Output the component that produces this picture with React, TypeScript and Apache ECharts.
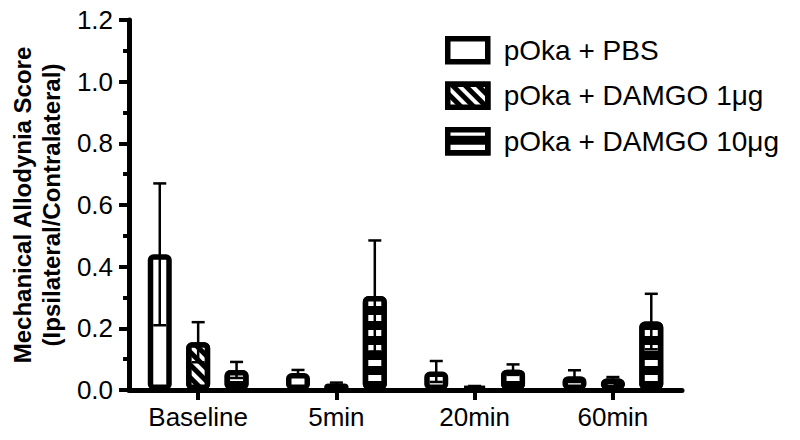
import React, { useEffect, useRef } from 'react';
import * as echarts from 'echarts';

const categories = ['Baseline', '5min', '20min', '60min'];
const seriesNames = ['pOka + PBS', 'pOka + DAMGO 1μg', 'pOka + DAMGO 10μg'];
const pbsMean = [0.44, 0.055, 0.06, 0.045];
const pbsSem = [0.23, 0.01, 0.034, 0.019];
const damgo1Mean = [0.155, 0.02, 0.01, 0.037];
const damgo1Sem = [0.065, 0.004, 0.003, 0.005];
const damgo10Mean = [0.065, 0.305, 0.066, 0.222];
const damgo10Sem = [0.026, 0.18, 0.017, 0.09];
const yTicks = [0, 0.2, 0.4, 0.6, 0.8, 1.0, 1.2];

const FONT = '"Liberation Sans", Arial, Helvetica, sans-serif';
const BAR_W = 24;
const BAR_GAP = 0.6;
const STEP = BAR_W * (1 + BAR_GAP);
const AXIS_LINE = { color: '#000000', width: 5, opacity: 1, type: 'solid' as const };
const TICK_LINE = { color: '#000000', width: 4, opacity: 1, type: 'solid' as const };

export default function App() {
  const ref = useRef<HTMLDivElement>(null);
  useEffect(() => {
    const chart = echarts.init(ref.current as HTMLDivElement, null, { renderer: 'svg' });
    const means = [pbsMean, damgo1Mean, damgo10Mean];
    const sems = [pbsSem, damgo1Sem, damgo10Sem];
    const fills = ['#ffffff', '#000000', '#000000'];
    const decals: any[] = [
      undefined,
      { symbol: 'rect', symbolSize: 1, color: '#ffffff', dashArrayX: [1, 0], dashArrayY: [4, 5], rotation: Math.PI / 4 },
      { symbol: 'rect', symbolSize: 1, color: '#ffffff', dashArrayX: [1, 0], dashArrayY: [6, 9], rotation: 0 },
    ];
    const barSeries = seriesNames.map((name, i) => ({
      type: 'bar',
      name,
      data: means[i],
      barWidth: BAR_W,
      barGap: Math.round(BAR_GAP * 100) + '%',
      itemStyle: {
        color: fills[i],
        borderColor: '#000',
        borderWidth: 5.5,
        borderRadius: 3,
        ...(decals[i] ? { decal: decals[i] } : {}),
      },
      emphasis: { disabled: true },
      silent: true,
      z: 2,
    }));
    const errSeries = seriesNames.map((name, i) => ({
      type: 'custom',
      name: name + ' SEM',
      data: categories.map((c, j) => [j, means[i][j], sems[i][j]]),
      silent: true,
      z: 3,
      renderItem: (params: any, api: any) => {
        const j = api.value(0);
        const m = api.value(1);
        const s = api.value(2);
        const top = api.coord([j, m + s]);
        const bot = api.coord([j, Math.max(0, m - s)]);
        const x = top[0] + (i - 1) * STEP;
        const cap = 6.5;
        const st = { stroke: '#000', lineWidth: 2.5 };
        return {
          type: 'group',
          children: [
            { type: 'line', shape: { x1: x, y1: top[1], x2: x, y2: bot[1] }, style: st },
            { type: 'line', shape: { x1: x - cap, y1: top[1], x2: x + cap, y2: top[1] }, style: st },
            { type: 'line', shape: { x1: x - cap, y1: bot[1], x2: x + cap, y2: bot[1] }, style: st },
          ],
        };
      },
    }));
    chart.setOption({
      animation: false,
      backgroundColor: '#ffffff',
      grid: { left: 129, right: 118, top: 20, bottom: 50, containLabel: false },
      legend: {
        data: seriesNames,
        orient: 'vertical',
        left: 440,
        top: 31,
        itemWidth: 40,
        itemHeight: 23,
        itemGap: 17,
        icon: 'rect',
        selectedMode: false,
        itemStyle: { borderWidth: 5.5, borderColor: '#000' },
        textStyle: { fontSize: 28, fontFamily: FONT, color: '#000', padding: [0, 0, 0, 11] },
      },
      xAxis: {
        type: 'category',
        data: categories,
        axisLine: { show: true, lineStyle: AXIS_LINE },
        axisTick: { show: true, alignWithLabel: true, length: 10, lineStyle: TICK_LINE },
        axisLabel: { fontSize: 26, fontFamily: FONT, color: '#000', margin: 14 },
        z: 5,
      },
      yAxis: {
        type: 'value',
        min: yTicks[0],
        max: yTicks[yTicks.length - 1],
        interval: 0.2,
        name: 'Mechanical Allodynia Score\n(Ipsilateral/Contralateral)',
        nameLocation: 'middle',
        nameGap: 62,
        nameTextStyle: { fontSize: 24, fontWeight: 'bold', fontFamily: FONT, color: '#000', lineHeight: 29 },
        axisLine: { show: true, lineStyle: AXIS_LINE },
        axisTick: { show: true, length: 10, lineStyle: TICK_LINE },
        minorTick: { show: true, splitNumber: 2, length: 6, lineStyle: TICK_LINE },
        splitLine: { show: false },
        axisLabel: {
          fontSize: 26,
          fontFamily: FONT,
          color: '#000',
          margin: 16,
          formatter: (v: number) => v.toFixed(1),
        },
        z: 5,
      },
      series: [...barSeries, ...errSeries],
    });
    return () => chart.dispose();
  }, []);
  return (
    <div
      ref={ref}
      style={{ position: 'fixed', left: 0, top: 0, width: 800, height: 440, background: '#fff' }}
    />
  );
}
